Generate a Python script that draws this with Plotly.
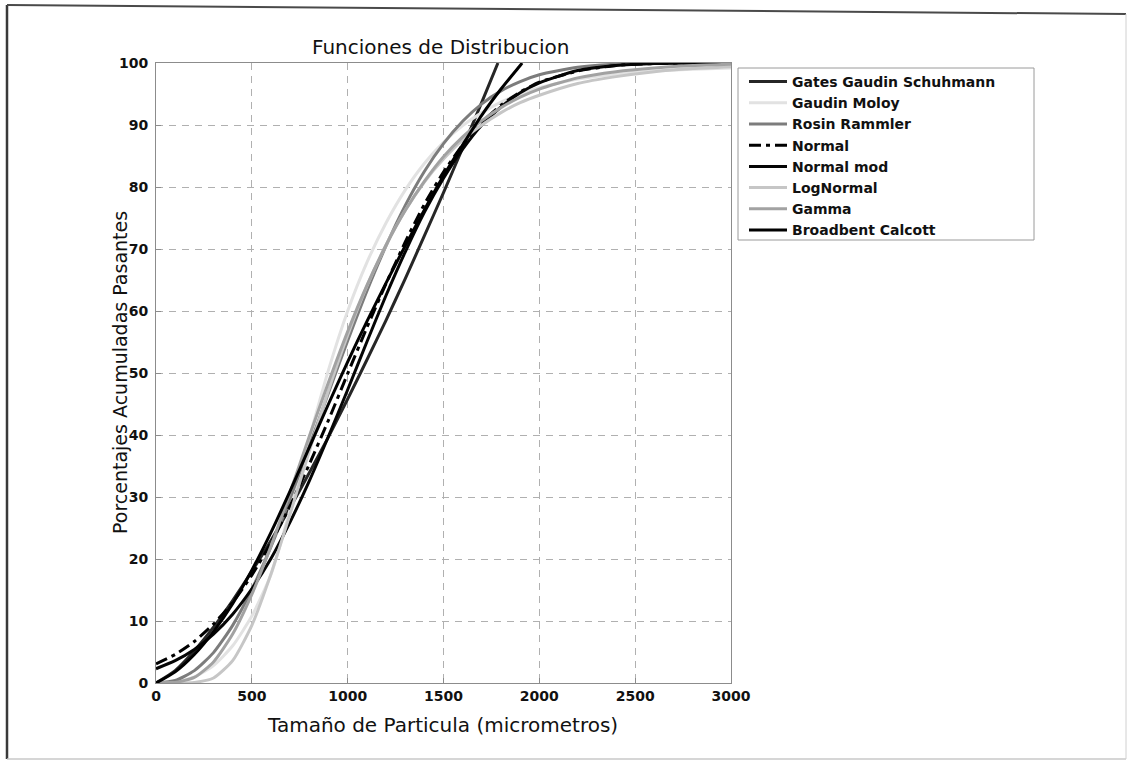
import plotly.graph_objects as go

# Particle size grid (micrometres) shared by most distributions
size_um = [0, 100, 200, 300, 400, 500, 600, 700, 800, 900, 1000,
           1100, 1200, 1300, 1400, 1500, 1600, 1700, 1800, 1900, 2000,
           2200, 2400, 2600, 2800, 3000]

# Gates Gaudin Schuhmann reaches 100 % at its maximum size
ggs_size = [0, 100, 200, 300, 400, 500, 600, 700, 800, 900, 1000,
            1100, 1200, 1300, 1400, 1500, 1600, 1700, 1784]
ggs_pct = [0, 2.0, 5.2, 9.0, 13.3, 18.0, 23.0, 28.3, 33.9, 39.7, 45.8,
           52.1, 58.5, 65.2, 72.1, 79.1, 86.3, 93.7, 100]

gaudin_moloy_pct = [0, 0.2, 1.0, 2.8, 6.0, 10.8, 17.5, 28.0, 39.5, 50.5, 60.0,
                    67.8, 74.2, 79.5, 83.8, 87.2, 89.9, 92.0, 93.7, 95.0, 96.0,
                    97.4, 98.2, 98.7, 99.0, 99.2]

rosin_rammler_pct = [0, 0.4, 2.0, 4.9, 9.3, 15.1, 22.0, 29.8, 38.2, 46.8, 55.2,
                     63.2, 70.5, 77.0, 82.5, 87.0, 90.6, 93.4, 95.5, 97.0, 98.1,
                     99.3, 99.8, 99.9, 100.0, 100.0]

normal_pct = [3.1, 4.6, 6.7, 9.5, 13.0, 17.4, 22.6, 28.6, 35.3, 42.4, 49.9,
              57.3, 64.4, 71.1, 77.2, 82.4, 86.8, 90.4, 93.2, 95.3, 96.9,
              98.7, 99.6, 99.9, 100.0, 100.0]

normal_mod_pct = [2.3, 3.6, 5.4, 7.9, 11.1, 15.2, 20.1, 26.0, 32.6, 39.8, 47.3,
                  55.0, 62.5, 69.5, 75.9, 81.4, 86.1, 90.0, 92.9, 95.2, 96.8,
                  98.8, 99.6, 99.9, 100.0, 100.0]

lognormal_pct = [0, 0.0, 0.1, 0.8, 3.6, 9.3, 17.6, 27.3, 37.4, 47.2, 56.1,
                 64.0, 70.6, 76.2, 80.8, 84.5, 87.6, 90.0, 92.0, 93.6, 94.8,
                 96.7, 97.8, 98.6, 99.1, 99.4]

gamma_pct = [0, 0.1, 0.9, 3.4, 7.9, 14.3, 22.1, 30.8, 39.8, 48.5, 56.7,
             64.1, 70.6, 76.2, 80.9, 84.9, 88.1, 90.7, 92.8, 94.5, 95.8,
             97.6, 98.6, 99.2, 99.6, 99.8]

# Broadbent Calcott also closes at 100 % at its maximum size
bc_size = [0, 100, 200, 300, 400, 500, 600, 700, 800, 900, 1000,
           1100, 1200, 1300, 1400, 1500, 1600, 1700, 1800, 1900, 1910]
bc_pct = [0, 1.8, 4.6, 8.3, 12.8, 18.2, 24.3, 31.0, 38.0, 45.0, 51.8,
          58.3, 64.5, 70.5, 76.3, 81.8, 86.8, 91.6, 95.8, 99.6, 100]

x_ticks = [0, 500, 1000, 1500, 2000, 2500, 3000]
y_ticks = [0, 10, 20, 30, 40, 50, 60, 70, 80, 90, 100]

FONT = "DejaVu Sans"
W, H = 1127, 767
ML, MR, MT, MB = 156, 396, 63, 84
PW, PH = W - ML - MR, H - MT - MB


def paper(xpx, ypx):
    return (xpx - ML) / PW, (H - MB - ypx) / PH


series = [
    ("Gates Gaudin Schuhmann", ggs_size, ggs_pct, "#262626", "solid"),
    ("Gaudin Moloy", size_um, gaudin_moloy_pct, "#e2e2e2", "solid"),
    ("Rosin Rammler", size_um, rosin_rammler_pct, "#7c7c7c", "solid"),
    ("Normal", size_um, normal_pct, "#000000", "12px,5px,4px,5px"),
    ("Normal mod", size_um, normal_mod_pct, "#050505", "solid"),
    ("LogNormal", size_um, lognormal_pct, "#c6c6c6", "solid"),
    ("Gamma", size_um, gamma_pct, "#a2a2a2", "solid"),
    ("Broadbent Calcott", bc_size, bc_pct, "#000000", "solid"),
]

fig = go.Figure()
for name, xs, ys, color, dash in series:
    fig.add_trace(go.Scatter(
        x=xs, y=ys, name=name, mode="lines",
        line=dict(color=color, width=3, dash=dash, shape="spline", smoothing=0.6),
    ))

axis_common = dict(
    showgrid=True, gridcolor="#b0b0b0", gridwidth=1, griddash="7px,6px",
    showline=True, linecolor="#8c8c8c", linewidth=1, mirror=True,
    ticks="inside", ticklen=5, tickcolor="#8c8c8c",
    tickfont=dict(family=FONT, size=14, color="#111111", weight="bold"),
    zeroline=False,
)

fig.update_xaxes(range=[0, 3000], tickvals=x_ticks, **axis_common)
fig.update_yaxes(range=[0, 100], tickvals=y_ticks, ticklabelstandoff=4, **axis_common)

# outer page frame
fx0, fy0 = paper(7, 5)
fx1, fy1 = paper(1126, 14)
bx0, by0 = paper(7, 759)
bx1, by1 = paper(1126, 759)
frame = [
    dict(x0=fx0, y0=fy0, x1=bx0, y1=by0, width=2.5, color="#3a3a3a"),
    dict(x0=fx0, y0=fy0, x1=fx1, y1=fy1, width=2, color="#4a4a4a"),
    dict(x0=bx0, y0=by0, x1=bx1, y1=by1, width=1.5, color="#c8c8c8"),
    dict(x0=fx1, y0=fy1, x1=bx1, y1=by1, width=1, color="#d0d0d0"),
]
for f in frame:
    fig.add_shape(type="line", xref="paper", yref="paper",
                  x0=f["x0"], y0=f["y0"], x1=f["x1"], y1=f["y1"],
                  line=dict(color=f["color"], width=f["width"]))

# legend frame
lb0x, lb0y = paper(738, 68)
lb1x, lb1y = paper(1034, 240)
fig.add_shape(type="rect", xref="paper", yref="paper",
              x0=lb0x, y0=lb1y, x1=lb1x, y1=lb0y,
              line=dict(color="#9a9a9a", width=1), fillcolor="white", layer="below")

tx, ty = paper(441, 47)
xtx, xty = paper(442, 725)
ytx, yty = paper(120, 373)
fig.add_annotation(text="Funciones de Distribucion", xref="paper", yref="paper",
                   x=tx, y=ty, xanchor="center", yanchor="middle", showarrow=False,
                   font=dict(family=FONT, size=20, color="#111111"))
fig.add_annotation(text="Tamaño de Particula (micrometros)", xref="paper", yref="paper",
                   x=xtx, y=xty, xanchor="center", yanchor="middle", showarrow=False,
                   font=dict(family=FONT, size=20, color="#111111"))
fig.add_annotation(text="Porcentajes Acumuladas Pasantes", xref="paper", yref="paper",
                   x=ytx, y=yty, xanchor="center", yanchor="middle", showarrow=False,
                   textangle=-90, font=dict(family=FONT, size=19, color="#111111"))

lx, ly = paper(744, 66)
fig.update_layout(
    width=W, height=H,
    margin=dict(l=ML, r=MR, t=MT, b=MB),
    paper_bgcolor="white", plot_bgcolor="white",
    showlegend=True,
    legend=dict(x=lx, y=ly, xanchor="left", yanchor="top",
                bgcolor="rgba(0,0,0,0)", borderwidth=0,
                font=dict(family=FONT, size=14, color="#111111", weight="bold"),
                tracegroupgap=0, itemwidth=38),
)

fig.write_html("out.html")
